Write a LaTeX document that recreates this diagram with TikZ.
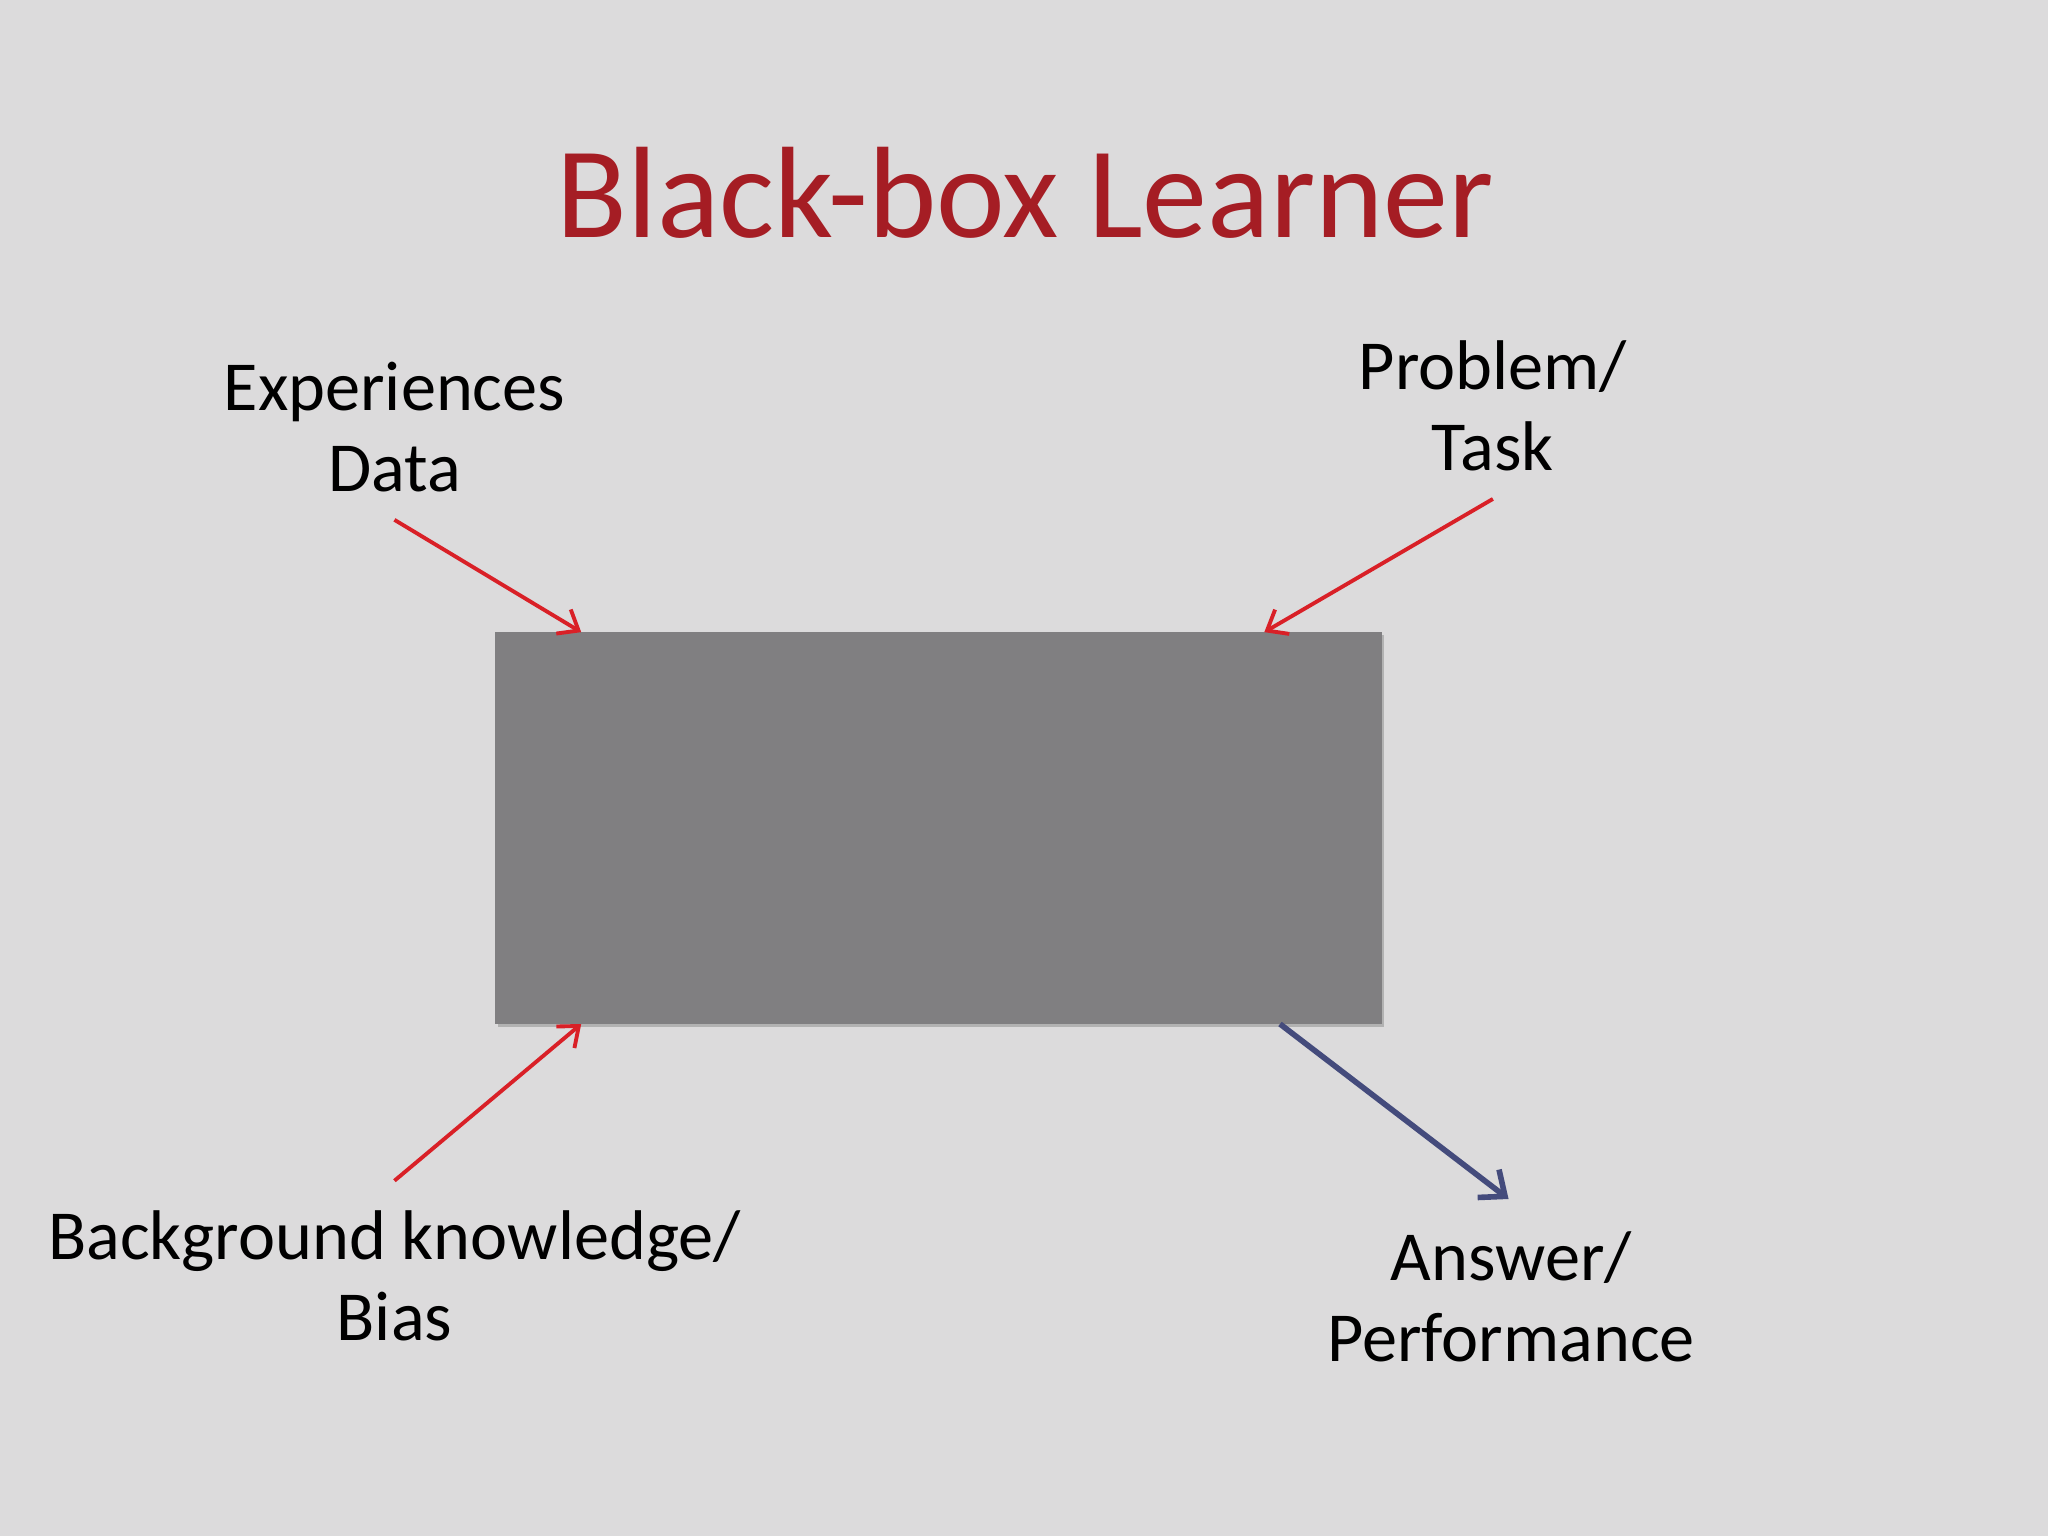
\documentclass[tikz,border=0pt]{standalone}
\usepackage{fontspec}
\setmainfont{Carlito}
\usetikzlibrary{arrows.meta,positioning}
\definecolor{slidebg}{HTML}{DCDBDC}
\definecolor{titlered}{HTML}{A51D24}
\definecolor{boxgray}{HTML}{807F81}
\definecolor{arrowred}{HTML}{D92027}
\definecolor{arrowblue}{HTML}{444B7C}
\begin{document}
\begin{tikzpicture}[x=0.01306cm,y=-0.01306cm,
		label node/.style={align=center,font=\fontsize{20}{23}\selectfont},
		in arrow/.style={draw=arrowred,line width=1.1pt,-{Straight Barb[length=5pt,width=8pt]}},
		out arrow/.style={draw=arrowblue,line width=1.6pt,-{Straight Barb[length=6pt,width=10pt]}}]
		
		\fill[slidebg] (0,0) rectangle (1568,1176);
		\useasboundingbox (0,0) rectangle (1568,1176);
		
		\node[text=titlered,font=\fontsize{37}{40}\selectfont] (title) at (785,148) {Black-box Learner};
		\fill[gray!60] (381,486) rectangle (1060,786);
		\node[fill=boxgray,minimum width=679*0.01306cm,minimum height=300*0.01306cm,inner sep=0pt] (learner) at (718.5,634) {};
		
		\node[label node] (exp) at (302,327) {Experiences\\Data};
		\node[label node] (task) at (1143,311) {Problem/\\Task};
		\node[label node] (bias) at (302,977) {Background knowledge/\\Bias};
		\node[label node] (answer) at (1157,993) {Answer/\\Performance};
		
		\coordinate (expin) at (445,484);
		\coordinate (taskin) at (968,484);
		\coordinate (biasin) at (445,784);
		\coordinate (outstart) at (980,784);
		\coordinate (outend) at (1155,918);
		\coordinate (expstart) at (302,398);
		\coordinate (taskstart) at (1143,382);
		\coordinate (biasstart) at (302,904);
		
		\draw[in arrow] (expstart) -- (expin);
		\draw[in arrow] (taskstart) -- (taskin);
		\draw[in arrow] (biasstart) -- (biasin);
		\draw[out arrow] (outstart) -- (outend);
\end{tikzpicture}
\end{document}
